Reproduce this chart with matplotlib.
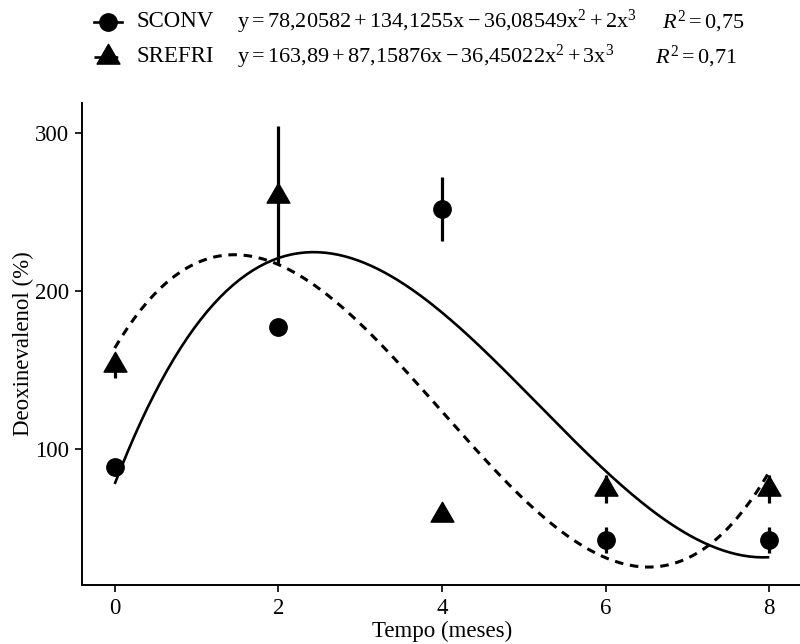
import numpy as np
import matplotlib
matplotlib.use("Agg")
import matplotlib.pyplot as plt
import matplotlib.lines as mlines
from matplotlib.path import Path

plt.rcParams['font.family'] = ['Liberation Serif', 'DejaVu Serif']
plt.rcParams['mathtext.fontset'] = 'custom'
plt.rcParams['mathtext.rm'] = 'Liberation Serif'
plt.rcParams['mathtext.it'] = 'Liberation Serif:italic'

# dados (medias e desvios)
tempo = [0, 2, 4, 6, 8]
sconv = [88.8, 177.2, 251.9, 42.4, 42.4]
sconv_err = [4, 3, 20.3, 8, 8]
srefri = [153.0, 260.3, 58.4, 74.7, 74.7]
srefri_err = [8, 44, 4, 9, 9]

eq_sconv = r'$\mathrm{y = 78{,}20582 + 134{,}1255x - 36{,}08549x^2 + 2x^3}$'
eq_srefri = r'$\mathrm{y = 163{,}89 + 87{,}15876x - 36{,}45022x^2 + 3x^3}$'
r2_sconv = r'$R^2 = 0{,}75$'
r2_srefri = r'$R^2 = 0{,}71$'

# triangulo centrado no centroide (como no R)
tri = Path([(0, 1), (-0.866, -0.5), (0.866, -0.5), (0, 1)],
           [Path.MOVETO, Path.LINETO, Path.LINETO, Path.CLOSEPOLY])

fs = 16.5
fig = plt.figure(figsize=(8, 6.44), dpi=100)
ax = fig.add_axes([0.1025, 0.0916, 0.9, 0.7484])

# curvas ajustadas (polinomio de 3o grau)
xx = np.linspace(0, 8, 200)
c1 = np.polyfit(tempo, sconv, 3)
c2 = np.polyfit(tempo, srefri, 3)
ax.plot(xx, np.polyval(c1, xx), color='black', lw=1.9, solid_capstyle='butt')
ax.plot(xx, np.polyval(c2, xx), color='black', lw=2.2, dashes=(2.8, 2.2))

ax.errorbar(tempo, sconv, yerr=sconv_err, fmt='none', ecolor='black', elinewidth=2.3)
ax.errorbar(tempo, srefri, yerr=srefri_err, fmt='none', ecolor='black', elinewidth=2.3)
ax.plot(tempo, sconv, 'o', color='black', ms=12.5, ls='none')
ax.plot(tempo, srefri, marker=tri, color='black', ms=19, ls='none')

ax.set_xlim(-0.4, 8.4)
ax.set_ylim(13.9, 319)
ax.set_xticks([0, 2, 4, 6, 8])
ax.set_yticks([100, 200, 300])
for s in ['top', 'right']:
    ax.spines[s].set_visible(False)
for s in ['left', 'bottom']:
    ax.spines[s].set_linewidth(1.4)
ax.tick_params(labelsize=fs, width=1.2, length=5, colors='black', pad=4)
ax.set_xlabel('Tempo (meses)', fontsize=fs, labelpad=2)
ax.set_ylabel('Deoxinevalenol (%)', fontsize=fs, labelpad=1)

# legenda no topo
rows = [(0.966, 'o', 12.5, '-', 'SCONV', eq_sconv, r2_sconv, 0.828),
        (0.9115, tri, 19, '--', 'SREFRI', eq_srefri, r2_srefri, 0.819)]
for y, mk, ms, ls, nome, eq, r2, xr2 in rows:
    fig.add_artist(mlines.Line2D([0.118, 0.152], [y, y], color='black', lw=1.9, ls=ls,
                                 transform=fig.transFigure))
    fig.add_artist(mlines.Line2D([0.135], [y], marker=mk, ms=ms, color='black',
                                 transform=fig.transFigure))
    fig.text(0.171, y, nome, fontsize=fs, va='center')
    fig.text(0.296, y, eq, fontsize=16, va='center')
    fig.text(xr2, y, r2, fontsize=16, va='center')

fig.savefig('out.png', dpi=100)
